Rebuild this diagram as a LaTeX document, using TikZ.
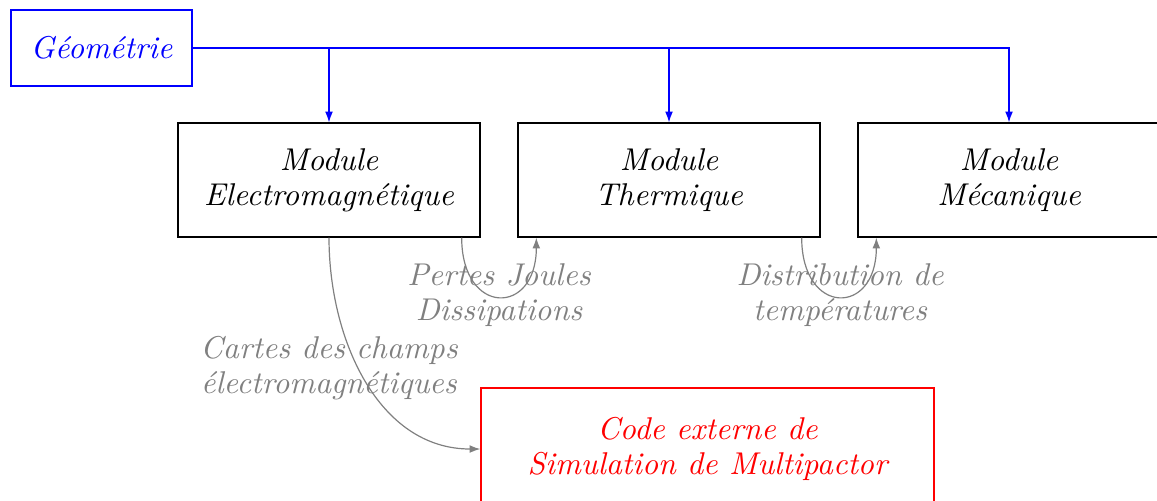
\documentclass[tikz,border=0pt]{standalone}
\usetikzlibrary{arrows.meta}
\begin{document}
\begin{tikzpicture}[x=0.3333pt,y=-0.3333pt,
  txt/.style={font=\fontsize{10.5}{11.8}\selectfont\itshape},
  geo/.style={txt, draw=blue, text=blue, minimum width=60.3pt, minimum height=25.3pt, inner sep=0pt},
  module/.style={txt, draw=black, minimum width=100.7pt, minimum height=38pt, inner sep=0pt, align=center},
  ext/.style={txt, draw=red, text=red, minimum width=151pt, minimum height=40.7pt, inner sep=0pt, align=center},
  lbl/.style={txt, text=gray, align=center},
  bluearrow/.style={draw=blue, -{Latex[length=3.6pt,width=2.6pt]}},
  grayarrow/.style={draw=gray, -{Latex[length=3.6pt,width=2.6pt]}}
]
\useasboundingbox (0,0) rectangle (1157,500);
\node[geo] (geo) at (101.5,48) {Géométrie};
\node[module] (em) at (329,180) {Module\\Electromagnétique};
\node[module] (th) at (669,180) {Module\\Thermique};
\node[module] (me) at (1009,180) {Module\\Mécanique};
\node[ext] (ext) at (707.5,449) {Code externe de\\Simulation de Multipactor};
\draw[bluearrow] (geo.east) -| (me.north);
\draw[bluearrow] (em.north |- geo.east) -- (em.north);
\draw[bluearrow] (th.north |- geo.east) -- (th.north);
\draw[grayarrow] (em.south) to[out=-90,in=180] (ext.west);
\draw[grayarrow] ([xshift=-6.33pt]em.south east) to[out=-90,in=-90,looseness=2.7] ([xshift=6.33pt]th.south west);
\draw[grayarrow] ([xshift=-6.33pt]th.south east) to[out=-90,in=-90,looseness=2.7] ([xshift=6.33pt]me.south west);
\node[lbl] (l1) at (499,295) {Pertes Joules\\Dissipations};
\node[lbl] (l2) at (840,295) {Distribution de\\températures};
\node[lbl] (l3) at (329,368) {Cartes des champs\\électromagnétiques};
\end{tikzpicture}
\end{document}
